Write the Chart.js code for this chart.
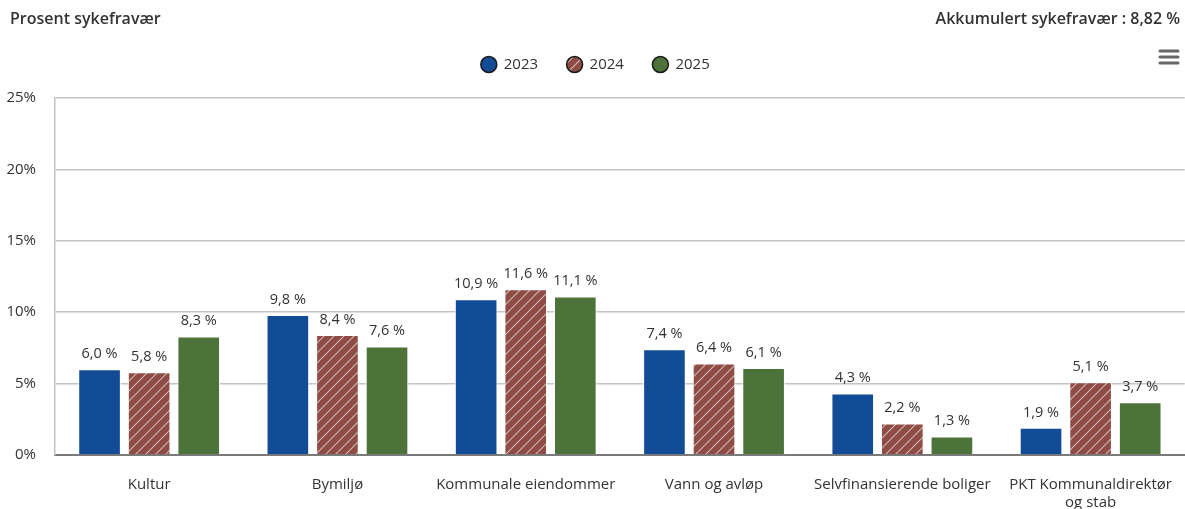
<!DOCTYPE html>
<html>
<head>
<meta charset="utf-8">
<script src="https://cdn.jsdelivr.net/npm/chart.js@4/dist/chart.umd.min.js"></script>
<style>
  html, body { margin: 0; padding: 0; background: #fff; }
  #wrap { width: 1185px; height: 509px; position: relative; }
</style>
</head>
<body>
<div id="wrap"><canvas id="chart"></canvas></div>
<script>
// Chart data
const categories = ['Kultur', 'Bymiljø', 'Kommunale eiendommer', 'Vann og avløp', 'Selvfinansierende boliger', ['PKT Kommunaldirektør', 'og stab']];
const years = ['2023', '2024', '2025'];
const values2023 = [6.0, 9.8, 10.9, 7.4, 4.3, 1.9];
const values2024 = [5.8, 8.4, 11.6, 6.4, 2.2, 5.1];
const values2025 = [8.3, 7.6, 11.1, 6.1, 1.3, 3.7];
const yTicks = [0, 5, 10, 15, 20, 25];
const titleText = 'Prosent sykefravær';
const accumulatedText = 'Akkumulert sykefravær : 8,82 %';

const FONT = "'Open Sans', 'Noto Sans', sans-serif";
const TEXT = '#333333';

/**
 * Diagonal white hatching on a red background
 */
function makeHatch(bg) {
    const size = 10;
    const c = document.createElement('canvas');
    c.width = size;
    c.height = size;
    const g = c.getContext('2d');
    g.fillStyle = bg;
    g.fillRect(0, 0, size, size);
    g.strokeStyle = 'rgba(255,255,255,0.6)';
    g.lineWidth = 1.1;
    g.beginPath();
    g.moveTo(0, size);
    g.lineTo(size, 0);
    g.moveTo(-size / 2, size / 2);
    g.lineTo(size / 2, -size / 2);
    g.moveTo(size / 2, size * 1.5);
    g.lineTo(size * 1.5, size / 2);
    g.stroke();
    return document.createElement('canvas').getContext('2d').createPattern(c, 'repeat');
}

const hatch = makeHatch('#8f4c45');

// Give the legend a fixed height so the plot starts where it should
const legendHeight = {
    id: 'legendHeight',
    beforeInit(chart) {
        const legend = chart.legend;
        if (!legend) return;
        const origFit = legend.fit;
        legend.fit = function () {
            origFit.call(this);
            this.height = 70;
        };
    }
};

// Title, accumulated value and menu icon
const headerPlugin = {
    id: 'header',
    afterDraw(chart) {
        const ctx = chart.ctx;
        ctx.save();
        ctx.fillStyle = TEXT;
        ctx.font = `600 16px ${FONT}`;
        ctx.textBaseline = 'middle';
        ctx.textAlign = 'left';
        ctx.fillText(titleText, 10, 19);
        ctx.textAlign = 'right';
        ctx.fillText(accumulatedText, 1180, 19);

        ctx.strokeStyle = '#666666';
        ctx.lineWidth = 3;
        ctx.lineCap = 'round';
        [51, 57, 63].forEach(y => {
            ctx.beginPath();
            ctx.moveTo(1160, y);
            ctx.lineTo(1178, y);
            ctx.stroke();
        });
        ctx.restore();
    }
};

// Value labels above bars
const valueLabels = {
    id: 'valueLabels',
    afterDatasetsDraw(chart) {
        const ctx = chart.ctx;
        ctx.save();
        ctx.fillStyle = TEXT;
        ctx.font = `14.5px ${FONT}`;
        ctx.textAlign = 'center';
        ctx.textBaseline = 'bottom';
        chart.data.datasets.forEach((ds, i) => {
            chart.getDatasetMeta(i).data.forEach((bar, j) => {
                const label = ds.data[j].toFixed(1).replace('.', ',') + ' %';
                ctx.fillText(label, bar.x, bar.y - 8);
            });
        });
        ctx.restore();
    }
};

new Chart(document.getElementById('chart'), {
    type: 'bar',
    data: {
        labels: categories,
        datasets: [
            { label: years[0], data: values2023, backgroundColor: '#134c96', borderColor: '#ffffff', borderWidth: 1 },
            { label: years[1], data: values2024, backgroundColor: hatch, borderColor: '#ffffff', borderWidth: 1 },
            { label: years[2], data: values2025, backgroundColor: '#4d733b', borderColor: '#ffffff', borderWidth: 1 }
        ]
    },
    options: {
        responsive: true,
        maintainAspectRatio: false,
        animation: false,
        devicePixelRatio: 1,
        layout: { padding: { top: 28, right: -6, left: 0, bottom: 0 } },
        datasets: {
            bar: { categoryPercentage: 0.79, barPercentage: 0.86 }
        },
        plugins: {
            legend: {
                display: true,
                position: 'top',
                labels: {
                    usePointStyle: true,
                    pointStyle: 'circle',
                    boxWidth: 15,
                    boxHeight: 11.3,
                    padding: 29,
                    color: TEXT,
                    font: { family: FONT, size: 15 },
                    generateLabels(chart) {
                        return chart.data.datasets.map((ds, i) => ({
                            text: ds.label,
                            fillStyle: i === 1 ? hatch : ds.backgroundColor,
                            strokeStyle: '#1a1a1a',
                            lineWidth: 1.5,
                            pointStyle: 'circle',
                            fontColor: TEXT,
                            datasetIndex: i
                        }));
                    }
                }
            },
            tooltip: { enabled: false }
        },
        scales: {
            x: {
                grid: { display: false },
                border: { color: '#7a7a7a', width: 2 },
                afterFit(axis) {
                    axis.height = 54;
                },
                ticks: {
                    color: TEXT,
                    padding: 13,
                    maxRotation: 0,
                    autoSkip: false,
                    font: { family: FONT, size: 15 }
                }
            },
            y: {
                min: yTicks[0],
                max: yTicks[yTicks.length - 1],
                afterBuildTicks(axis) {
                    axis.ticks = yTicks.map(v => ({ value: v }));
                },
                afterFit(axis) {
                    axis.width = 55;
                },
                grid: { color: '#c4c4c4', lineWidth: 1.5, drawTicks: false },
                border: { color: '#c4c4c4', width: 1.5 },
                ticks: {
                    color: TEXT,
                    padding: 19,
                    font: { family: FONT, size: 15 },
                    callback: v => v + '%'
                }
            }
        }
    },
    plugins: [legendHeight, headerPlugin, valueLabels]
});
</script>
</body>
</html>
